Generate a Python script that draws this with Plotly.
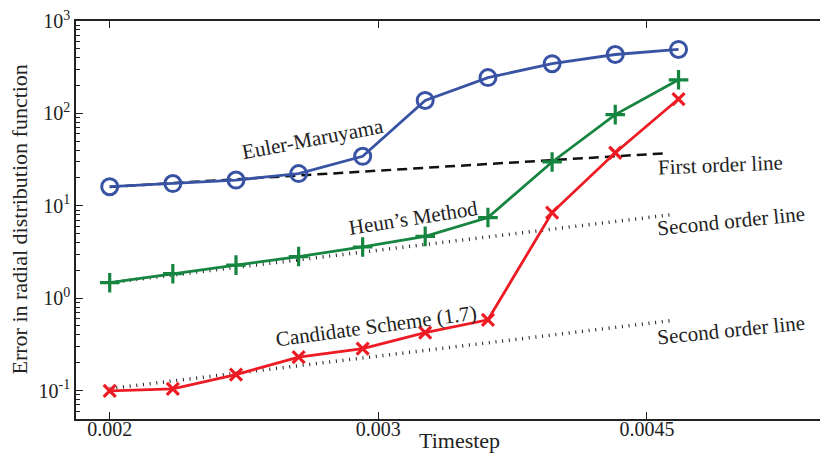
import plotly.graph_objects as go

# ---- data ----
timestep = [0.002, 0.0022, 0.00242, 0.00266, 0.00293, 0.00322, 0.00354, 0.0039, 0.00429, 0.00472]
euler_maruyama = [16.1, 17.4, 19.0, 22.3, 34.3, 138, 244, 345, 434, 492]
heun_method = [1.47, 1.84, 2.28, 2.82, 3.58, 4.66, 7.46, 29.8, 97, 231]
candidate_scheme = [0.099, 0.104, 0.149, 0.230, 0.285, 0.424, 0.583, 8.45, 37.5, 143]

first_order_x = [0.002, 0.00465]
first_order_y = [16.0, 37.2]
second_order_x = [0.002, 0.00469]
second_order_upper_y = [1.47, 8.08]
second_order_lower_y = [0.105, 0.577]

x_tick_vals = [0.002, 0.003, 0.0045]
x_tick_text = ["0.002", "0.003", "0.0045"]
y_tick_vals = [0.1, 1, 10, 100, 1000]
y_tick_text = ["10<sup>-1</sup>", "10<sup>0</sup>", "10<sup>1</sup>", "10<sup>2</sup>", "10<sup>3</sup>"]

BLUE = "#3953a4"
GREEN = "#15853f"
RED = "#ed1c24"
FONT = "Liberation Serif"

fig = go.Figure()

# reference lines
fig.add_trace(go.Scatter(x=first_order_x, y=first_order_y, mode="lines",
                         line=dict(color="#111111", width=2.5, dash="10px,6px"), hoverinfo="skip"))
for ys in (second_order_upper_y, second_order_lower_y):
    fig.add_trace(go.Scatter(x=second_order_x, y=ys, mode="lines",
                             line=dict(color="#222222", width=3.5, dash="1px,5.7px"), hoverinfo="skip"))

# series
fig.add_trace(go.Scatter(x=timestep, y=euler_maruyama, mode="lines+markers",
                         line=dict(color=BLUE, width=2.8),
                         marker=dict(symbol="circle-open", size=16, color=BLUE, line=dict(width=3, color=BLUE))))
fig.add_trace(go.Scatter(x=timestep, y=heun_method, mode="lines+markers",
                         line=dict(color=GREEN, width=2.8),
                         marker=dict(symbol="cross-thin-open", size=14, color=GREEN, line=dict(width=3.2, color=GREEN))))
fig.add_trace(go.Scatter(x=timestep, y=candidate_scheme, mode="lines+markers",
                         line=dict(color=RED, width=2.8),
                         marker=dict(symbol="x-thin-open", size=12, color=RED, line=dict(width=3.2, color=RED))))

# The page body has an 8px margin, so the figure is shifted by (8, 8) on screen.
OFF = 8
W, H = 820, 453
L, T, B = 76 - OFF, 18 - OFF, 42
PW, PH = W - L, H - T - B


def px(xp):
    return (xp - OFF - L) / PW


def py(yp):
    return (H - B - (yp - OFF)) / PH


labels = [
    ("Euler-Maruyama", 313, 137, -10.8),
    ("Heun\u2019s Method", 413, 216, -8.9),
    ("Candidate Scheme (1.7)", 376, 325.5, -7.7),
    ("First order line", 720, 163, -2.3),
    ("Second order line", 731, 219.5, -5.8),
    ("Second order line", 731, 329.5, -5.8),
]
annotations = []
for text, xp, yp, ang in labels:
    annotations.append(dict(text=text, x=px(xp), y=py(yp), xref="paper", yref="paper",
                            xanchor="center", yanchor="middle", showarrow=False, textangle=ang,
                            font=dict(family=FONT, size=21, color="#222222")))
annotations.append(dict(text="Timestep", x=px(459.5), y=py(441), xref="paper", yref="paper",
                        xanchor="center", yanchor="middle", showarrow=False,
                        font=dict(family=FONT, size=22, color="#222222")))
annotations.append(dict(text="Error in radial distribution function", x=px(20), y=py(218),
                        xref="paper", yref="paper", xanchor="center", yanchor="middle",
                        showarrow=False, textangle=-90,
                        font=dict(family=FONT, size=22, color="#222222")))

fig.update_layout(
    width=W, height=H,
    margin=dict(l=L, r=0, t=T, b=B, pad=0),
    paper_bgcolor="white", plot_bgcolor="white",
    showlegend=False,
    font=dict(family=FONT, size=20, color="#222222"),
    annotations=annotations,
)
fig.update_xaxes(type="log", range=[-2.72106, -2.22807],
                 tickmode="array", tickvals=x_tick_vals, ticktext=x_tick_text,
                 ticks="inside", ticklen=7, tickwidth=1, tickcolor="#222222",
                 ticklabelstandoff=-9, ticklabeloverflow="allow",
                 showline=True, linecolor="#222222", linewidth=1.5, mirror="ticks",
                 showgrid=False, zeroline=False, tickfont=dict(family=FONT, size=20))
fig.update_yaxes(type="log", range=[-1.308, 3.0001],
                 tickmode="array", tickvals=y_tick_vals, ticktext=y_tick_text,
                 ticks="inside", ticklen=7, tickwidth=1, tickcolor="#222222",
                 ticklabeloverflow="allow",
                 minor=dict(ticks="inside", ticklen=4, tickwidth=1, tickcolor="#222222", dtick="D1", showgrid=False),
                 showline=True, linecolor="#222222", linewidth=1.5, mirror=False,
                 showgrid=False, zeroline=False, tickfont=dict(family=FONT, size=20))

fig.write_html("out.html")
